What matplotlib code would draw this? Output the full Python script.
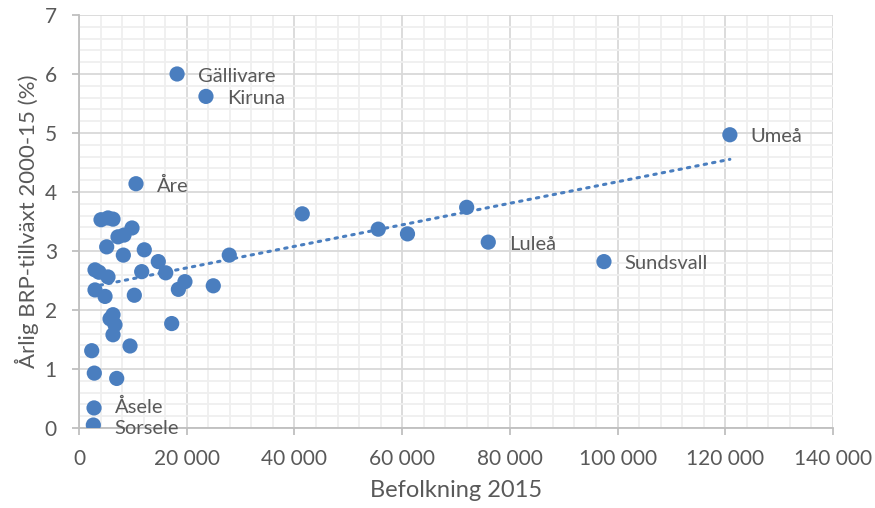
import matplotlib
matplotlib.use("Agg")
import matplotlib.pyplot as plt
from matplotlib.ticker import MultipleLocator, FuncFormatter
import numpy as np

plt.rcParams['font.family'] = ['Lato', 'DejaVu Sans']

# befolkning 2015 och årlig BRP-tillväxt 2000-15 (%)
befolkning = [18210, 23570, 120850, 10580, 41450, 71980, 55560, 60990, 75990, 97470,
              27900, 24930, 19670, 18450, 16100, 14720, 12120, 11640, 10270, 8230,
              5140, 7240, 8355, 9840, 4085, 5385, 6313, 2970, 3710, 5380,
              2970, 4830, 6310, 5760, 6680, 6310, 9470, 17210, 2360, 2840,
              7000, 2790, 2660]
tillvaxt = [6.00, 5.62, 4.97, 4.14, 3.63, 3.74, 3.37, 3.29, 3.15, 2.82,
            2.93, 2.41, 2.48, 2.35, 2.63, 2.82, 3.02, 2.65, 2.25, 2.93,
            3.07, 3.24, 3.27, 3.39, 3.53, 3.56, 3.54, 2.68, 2.64, 2.56,
            2.34, 2.23, 1.92, 1.85, 1.75, 1.58, 1.39, 1.77, 1.31, 0.93,
            0.84, 0.34, 0.05]
namn = {0: "Gällivare", 1: "Kiruna", 2: "Umeå", 3: "Åre", 8: "Luleå",
        9: "Sundsvall", 41: "Åsele", 42: "Sorsele"}

blue = "#4a7ebf"
grey_text = "#595959"

fig = plt.figure(figsize=(8.75, 5.08), dpi=100)
ax = fig.add_axes([0.0903, 0.1575, 0.8617, 0.813])

ax.set_xlim(0, 140000)
ax.set_ylim(0, 7)
ax.xaxis.set_major_locator(MultipleLocator(20000))
ax.xaxis.set_minor_locator(MultipleLocator(4000))
ax.yaxis.set_major_locator(MultipleLocator(1))
ax.yaxis.set_minor_locator(MultipleLocator(0.2))
ax.xaxis.set_major_formatter(FuncFormatter(lambda v, p: f"{int(v):,}".replace(",", " ")))

ax.grid(which="minor", color="#efefef", linewidth=1.3, zorder=0)
ax.grid(which="major", color="#d9d9d9", linewidth=1.3, zorder=0)
ax.set_axisbelow(True)

for s in ["top", "right"]:
    ax.spines[s].set_visible(False)
for s in ["left", "bottom"]:
    ax.spines[s].set_color("#bfbfbf")
    ax.spines[s].set_linewidth(1.3)

ax.tick_params(which="major", direction="out", length=5, color="#bfbfbf", width=1.3,
               labelsize=15, labelcolor=grey_text)
ax.tick_params(which="minor", length=0)
ax.tick_params(axis="y", pad=11)
ax.tick_params(axis="x", pad=10)

# linjär trendlinje
x = np.array(befolkning, dtype=float)
y = np.array(tillvaxt)
k, m = np.polyfit(x, y, 1)
xs = np.array([x.min(), x.max()])
ax.plot(xs, k * xs + m, color=blue, linewidth=2.2, linestyle=(0, (0.8, 2.0)),
        dash_capstyle="round", zorder=2)

ax.scatter(befolkning, tillvaxt, s=120, color=blue, edgecolors="none", zorder=3)

# etiketterna för Åsele och Sorsele ligger tätt, flytta isär dem lite
dy = {41: 1.0, 42: -2.5}
for i, t in namn.items():
    ax.annotate(t, (befolkning[i], tillvaxt[i]), xytext=(15, dy.get(i, -1.5)),
                textcoords="offset points", va="center", ha="left", fontsize=14.5,
                color=grey_text, zorder=4)

ax.set_xlabel("Befolkning 2015", fontsize=17, color=grey_text, labelpad=8)
ax.set_ylabel("Årlig BRP-tillväxt 2000-15 (%)", fontsize=16, color=grey_text, labelpad=4)

fig.savefig("out.png", dpi=100)
